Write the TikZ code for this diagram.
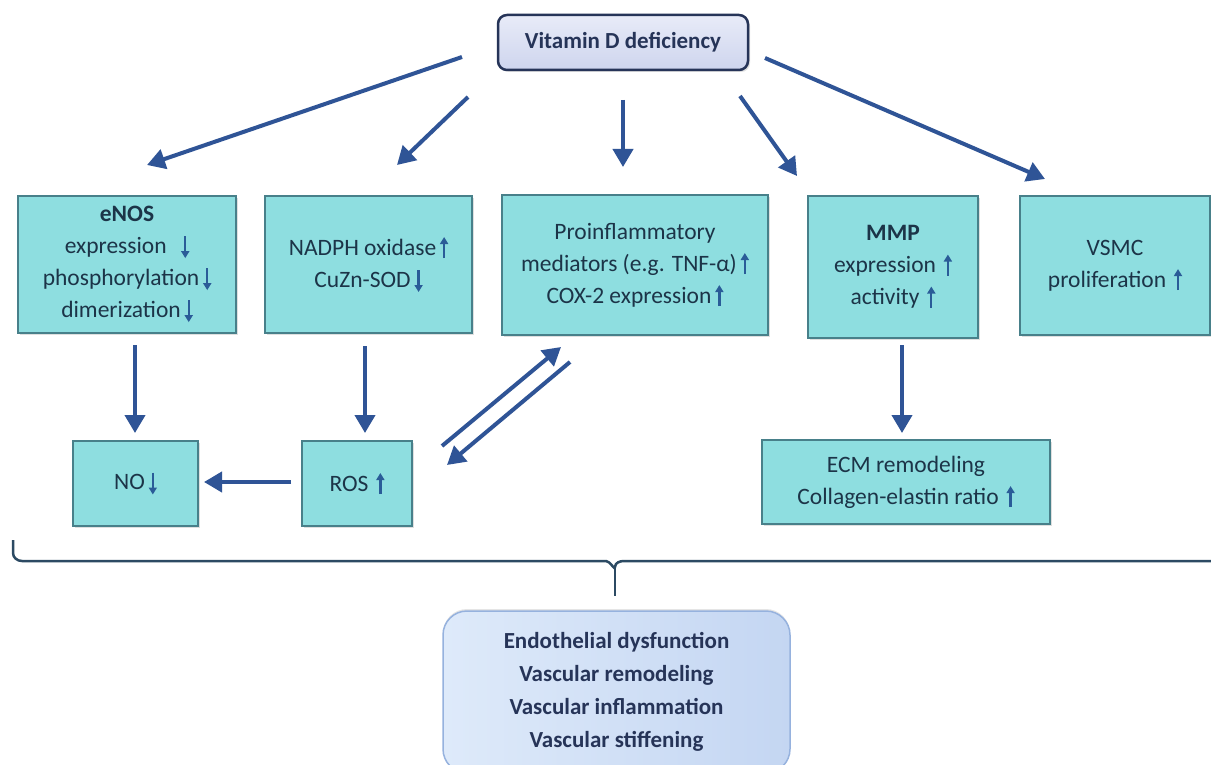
\documentclass[tikz,border=0pt]{standalone}
\usepackage{fontspec}
\setmainfont{Carlito}
\usetikzlibrary{arrows.meta,shadows,calc}
\definecolor{boxfill}{RGB}{142,222,224}
\definecolor{boxdraw}{RGB}{72,128,138}
\definecolor{txt}{RGB}{28,52,72}
\definecolor{arr}{RGB}{47,84,150}
\definecolor{smallarr}{RGB}{42,92,152}
\definecolor{navy}{RGB}{38,52,88}
\definecolor{vdtop}{RGB}{232,235,248}
\definecolor{vdbot}{RGB}{206,213,238}
\definecolor{resl}{RGB}{222,234,250}
\definecolor{resr}{RGB}{196,214,242}
\definecolor{resdraw}{RGB}{150,178,222}
\definecolor{brace}{RGB}{44,74,99}
\newcommand\upa{\,\tikz[baseline=0pt]\draw[line width=2.3pt,smallarr,-{Triangle[width=8pt,length=7pt]}](0pt,-3pt)--(0pt,18pt);}
\newcommand\dna{\,\tikz[baseline=0pt]\draw[line width=2.3pt,smallarr,-{Triangle[width=8pt,length=7pt]}](0pt,17pt)--(0pt,-5pt);}
\begin{document}
\begin{tikzpicture}[x=1pt,y=-1pt,
  box/.style={rectangle, fill=boxfill, draw=boxdraw, line width=1.8pt, text=txt, align=center,
     font=\fontsize{23.5}{32}\selectfont, inner sep=0pt,
     drop shadow={opacity=0.25, shadow xshift=2pt, shadow yshift=-2pt}},
  conn/.style={draw=arr, line width=4pt, -{Triangle[width=20pt,length=18pt]}},
]
\useasboundingbox (0,0) rectangle (1211,765);
\fill[white] (0,0) rectangle (1211,765);

% top node
\node[rectangle, rounded corners=9pt, top color=vdtop, bottom color=vdbot, draw=navy, line width=2.5pt,
  minimum width=250pt, minimum height=55pt, text=navy, font=\fontsize{23}{26}\selectfont\bfseries,
  drop shadow={opacity=0.25, shadow xshift=2pt, shadow yshift=-2pt}] (vd) at (623,42.5) {Vitamin D deficiency};

% level 1 boxes
\node[box, minimum width=218pt, minimum height=137pt] (enos) at (127,264.5)
  {\textbf{eNOS}\\expression\ \ \dna\\phosphorylation\dna\\dimerization\dna};
\node[box, minimum width=207pt, minimum height=137pt] (nadph) at (368.5,264.5)
  {NADPH oxidase\upa\\CuZn-SOD\dna};
\node[box, minimum width=266pt, minimum height=140pt] (infl) at (635,265)
  {Proinflammatory\\mediators (e.g. TNF-α)\upa\\COX-2 expression\upa};
\node[box, minimum width=170pt, minimum height=142pt] (mmp) at (893,267)
  {\textbf{MMP}\\expression\,\upa\\activity\,\upa};
\node[box, minimum width=190pt, minimum height=139pt] (vsmc) at (1115,265.5)
  {VSMC\\proliferation\,\upa};

% level 2 boxes
\node[box, minimum width=125pt, minimum height=85pt] (no) at (135.5,483.5) {NO\dna};
\node[box, minimum width=110pt, minimum height=85pt] (ros) at (357,483.5) {ROS\,\upa};
\node[box, minimum width=288pt, minimum height=84pt] (ecm) at (906,482)
  {ECM remodeling\\Collagen-elastin ratio\,\upa};

% result box
\node[rectangle, rounded corners=24pt, left color=resl, right color=resr, draw=resdraw, line width=1.5pt,
  minimum width=347pt, minimum height=162pt, text=navy, align=center,
  font=\fontsize{23}{33}\selectfont\bfseries,
  drop shadow={opacity=0.2, shadow xshift=0pt, shadow yshift=2pt}] (res) at (616.5,692)
  {Endothelial dysfunction\\Vascular remodeling\\Vascular inflammation\\Vascular stiffening};

% connector endpoints
\coordinate (s1) at (462,57);   \coordinate (e1) at (147,165);
\coordinate (s2) at (468,97);   \coordinate (e2) at (397,165);
\coordinate (s3) at (623,100);  \coordinate (e3) at (623,167);
\coordinate (s4) at (740,96);   \coordinate (e4) at (797,176);
\coordinate (s5) at (765,58);   \coordinate (e5) at (1045,179);
\coordinate (s6) at (135,345);  \coordinate (e6) at (135,433);
\coordinate (s7) at (365,346);  \coordinate (e7) at (365,433);
\coordinate (s8) at (291,482);  \coordinate (e8) at (204,482);
\coordinate (s9) at (442,446);  \coordinate (e9) at (561,347);
\coordinate (s10) at (570,362); \coordinate (e10) at (447,465);
\coordinate (s11) at (902,345); \coordinate (e11) at (902,433);

\draw[conn] (s1) -- (e1);
\draw[conn] (s2) -- (e2);
\draw[conn] (s3) -- (e3);
\draw[conn] (s4) -- (e4);
\draw[conn] (s5) -- (e5);
\draw[conn] (s6) -- (e6);
\draw[conn] (s7) -- (e7);
\draw[conn] (s8) -- (e8);
\draw[conn] (s9) -- (e9);
\draw[conn] (s10) -- (e10);
\draw[conn] (s11) -- (e11);

% brace
\coordinate (bl) at (13,540);
\coordinate (br) at (1211,561);
\coordinate (bt) at (615,596);
\draw[brace, line width=2.5pt] (bl) -- (13,553) to[out=-90,in=180] (22,561) -- (606,561)
   to[out=0,in=-90] (615,567) to[out=90,in=180] (624,561) -- (br);
\draw[brace, line width=2.5pt] (615,565) -- (bt);
\end{tikzpicture}
\end{document}
